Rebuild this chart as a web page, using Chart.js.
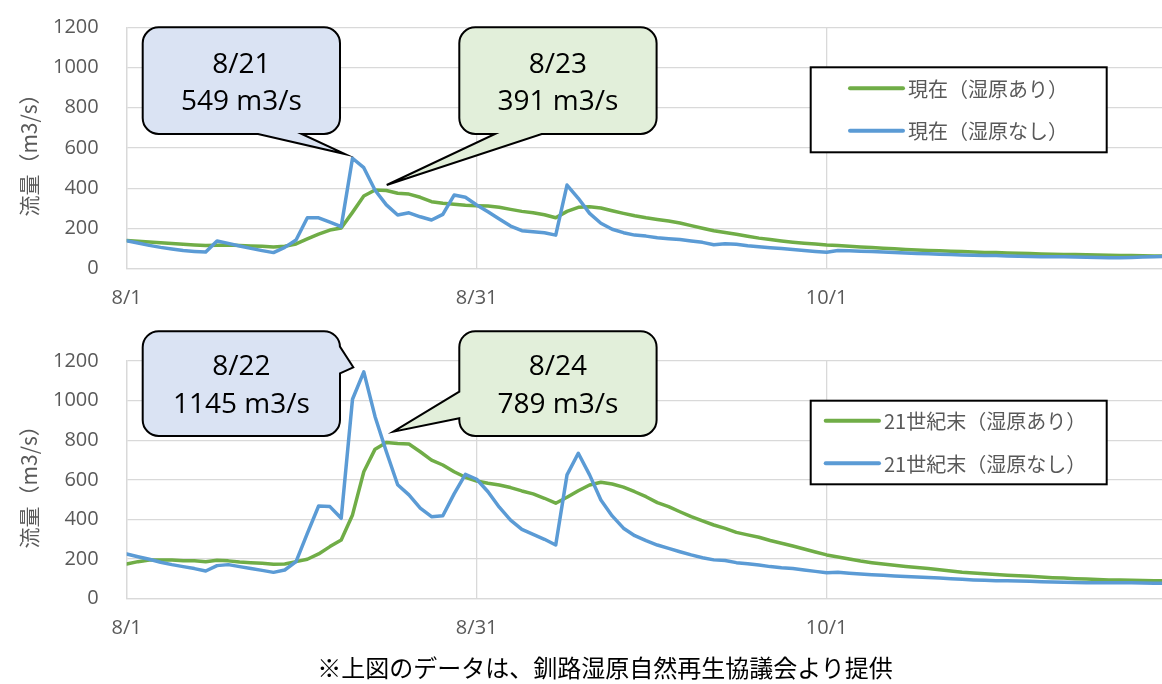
<!DOCTYPE html>
<html lang="ja">
<head>
<meta charset="utf-8">
<script src="https://cdn.jsdelivr.net/npm/chart.js@4/dist/chart.umd.min.js"></script>
<style>
html,body{margin:0;padding:0;background:#fff;}
body{width:1162px;height:684px;position:relative;overflow:hidden;}
.panel{position:absolute;left:0;width:1162px;}
#top{top:0;height:330px;}
#bottom{top:330px;height:320px;}
#note{position:absolute;left:24px;width:1162px;top:652px;text-align:center;font:24px/30px "Noto Sans CJK JP";color:#000;}
</style>
</head>
<body>
<div class="panel" id="top"><canvas id="c1"></canvas></div>
<div class="panel" id="bottom"><canvas id="c2"></canvas></div>
<div id="note">※上図のデータは、釧路湿原自然再生協議会より提供</div>
<script>
// Daily discharge (m3/s); index 0 = 8/1
const nowWithWetland = [
  140,136,133,129,125,121,118,115,116,118,
  115,113,111,108,112,123,148,172,192,202,
  280,361,391,389,375,371,355,333,325,320,
  315,313,312,305,295,285,278,268,253,285,
  305,308,302,288,275,263,253,245,237,227,
  214,201,189,180,171,161,152,145,138,132,
  127,123,118,115,112,108,105,102,99,96,
  93,91,89,87,85,83,81,80,78,77,
  75,73,72,71,70,69,68,67,66,65,
  64,63,63
];
const nowWithoutWetland = [
  139,128,116,106,98,90,86,83,138,126,
  113,101,90,80,106,143,253,253,231,209,
  549,502,390,317,267,278,258,242,270,366,
  355,317,283,247,212,189,184,179,167,416,
  350,275,226,196,179,167,162,154,149,145,
  138,131,119,124,121,114,109,104,100,95,
  90,86,82,90,89,87,85,83,81,78,
  76,74,72,70,68,67,66,65,63,62,
  61,60,60,59,58,57,56,55,55,56,
  58,60,61
];
const futureWithWetland = [
  175,187,195,195,195,192,191,187,194,191,
  185,182,179,174,175,187,199,226,263,296,
  423,641,755,789,784,781,742,700,675,641,
  613,594,583,574,561,544,529,507,482,512,
  545,574,588,579,563,540,515,485,465,439,
  414,393,372,355,335,322,310,294,280,266,
  251,236,221,211,200,190,182,175,169,163,
  157,152,146,140,134,130,126,122,119,116,
  113,109,106,104,101,99,97,95,94,93,
  92,91,90
];
const futureWithoutWetland = [
  226,212,199,184,172,162,152,140,167,172,
  162,152,143,133,145,187,330,468,465,406,
  1007,1145,919,742,575,524,457,414,419,529,
  628,603,540,462,397,350,325,300,271,625,
  734,625,498,418,356,318,293,271,254,237,
  221,207,196,193,182,177,170,162,156,152,
  145,138,131,134,129,125,121,118,115,112,
  110,107,104,101,98,95,93,91,90,89,
  88,86,84,83,82,81,81,81,81,80,
  79,78,78
];
const tickDays = [0, 31, 62];
const tickLabels = ['8/1', '8/31', '10/1'];
const seriesLabelsNow = ['現在（湿原あり）', '現在（湿原なし）'];
const seriesLabelsFuture = ['21世紀末（湿原あり）', '21世紀末（湿原なし）'];
const yAxisTitle = '流量（m3/s）';

const GREEN = '#70ad47';
const BLUE = '#5b9bd5';
const GRID = '#d9d9d9';
const AXIS_TEXT = '#595959';
const NUM_FONT = '"Open Sans", "DejaVu Sans", sans-serif';
const JP_FONT = '"Noto Sans CJK JP", sans-serif';

const toPoints = arr => arr.map((v, i) => ({x: i, y: v}));
const dateOf = i => '8/' + (i + 1);

// Rotated axis title, centred on the plot height
const axisTitle = {
  id: 'axisTitle',
  afterDraw(chart, args, o) {
    const ctx = chart.ctx;
    const a = chart.chartArea;
    ctx.save();
    ctx.translate(o.x, (a.top + a.bottom) / 2 + 2);
    ctx.rotate(-Math.PI / 2);
    ctx.font = '21px ' + JP_FONT;
    ctx.fillStyle = AXIS_TEXT;
    ctx.textAlign = 'center';
    ctx.textBaseline = 'middle';
    ctx.fillText(o.text, 0, 0);
    ctx.restore();
  }
};

// Boxed legend drawn inside the plot
const boxLegend = {
  id: 'boxLegend',
  afterDraw(chart, args, o) {
    const ctx = chart.ctx;
    ctx.save();
    ctx.fillStyle = '#fff';
    ctx.fillRect(o.x, o.y, o.w, o.h);
    ctx.lineWidth = 2;
    ctx.strokeStyle = '#000';
    ctx.strokeRect(o.x, o.y, o.w, o.h);
    ctx.font = '20px ' + JP_FONT;
    ctx.textBaseline = 'middle';
    ctx.fillStyle = AXIS_TEXT;
    chart.data.datasets.forEach((ds, k) => {
      const y = o.rows[k];
      ctx.beginPath();
      ctx.lineWidth = 4;
      ctx.lineCap = 'round';
      ctx.strokeStyle = ds.borderColor;
      ctx.moveTo(o.lineX0, y);
      ctx.lineTo(o.lineX1, y);
      ctx.stroke();
      ctx.fillText(ds.label, o.textX, y + 1);
    });
    ctx.restore();
  }
};

// Speech-bubble callouts naming the peak of a series
const callouts = {
  id: 'callouts',
  afterDraw(chart, args, o) {
    const ctx = chart.ctx;
    o.items.forEach(c => {
      const v = chart.data.datasets[c.ds].data[c.index].y;
      const {x, y, w, h} = c;
      const r = 16;
      ctx.save();
      ctx.beginPath();
      ctx.moveTo(x + r, y);
      ctx.lineTo(x + w - r, y);
      ctx.arcTo(x + w, y, x + w, y + r, r);
      if (c.side === 'right') { ctx.lineTo(x + w, c.a); ctx.lineTo(c.tip[0], c.tip[1]); ctx.lineTo(x + w, c.b); }
      ctx.lineTo(x + w, y + h - r);
      ctx.arcTo(x + w, y + h, x + w - r, y + h, r);
      if (c.side === 'bottom') { ctx.lineTo(c.b, y + h); ctx.lineTo(c.tip[0], c.tip[1]); ctx.lineTo(c.a, y + h); }
      ctx.lineTo(x + r, y + h);
      ctx.arcTo(x, y + h, x, y + h - r, r);
      if (c.side === 'left') { ctx.lineTo(x, c.b); ctx.lineTo(c.tip[0], c.tip[1]); ctx.lineTo(x, c.a); }
      ctx.lineTo(x, y + r);
      ctx.arcTo(x, y, x + r, y, r);
      ctx.closePath();
      ctx.fillStyle = c.fill;
      ctx.fill();
      ctx.lineWidth = 2;
      ctx.lineJoin = 'miter';
      ctx.strokeStyle = '#000';
      ctx.stroke();
      ctx.fillStyle = '#000';
      ctx.font = '28px ' + NUM_FONT;
      ctx.textAlign = 'center';
      ctx.textBaseline = 'middle';
      ctx.fillText(dateOf(c.index), x + w / 2, y + c.l1);
      ctx.fillText(v + ' m3/s', x + w / 2, y + c.l2);
      ctx.restore();
    });
  }
};

function makeChart(canvasId, labels, greenData, blueData, padTop, xHeight, legendOpts, calloutItems) {
  return new Chart(document.getElementById(canvasId), {
    type: 'line',
    data: {
      datasets: [
        {label: labels[0], data: toPoints(greenData), borderColor: GREEN, backgroundColor: GREEN, order: 1},
        {label: labels[1], data: toPoints(blueData), borderColor: BLUE, backgroundColor: BLUE, order: 0}
      ]
    },
    options: {
      responsive: true,
      maintainAspectRatio: false,
      animation: false,
      events: [],
      layout: {padding: {top: padTop, left: 0, right: 0, bottom: 0}},
      elements: {
        line: {borderWidth: 3.5, tension: 0, borderJoinStyle: 'round', borderCapStyle: 'round'},
        point: {radius: 0}
      },
      scales: {
        x: {
          type: 'linear',
          min: 0,
          max: 91.7,
          afterBuildTicks: s => { s.ticks = tickDays.map(v => ({value: v})); },
          afterFit: s => { s.height = xHeight; },
          ticks: {
            autoSkip: false,
            maxRotation: 0,
            padding: 18,
            color: AXIS_TEXT,
            font: {family: NUM_FONT, size: 20},
            callback: (val, i) => tickLabels[i]
          },
          grid: {color: GRID, lineWidth: 1.3, drawTicks: false},
          border: {color: GRID, width: 1.3}
        },
        y: {
          min: 0,
          max: 1200,
          afterFit: s => { s.width = 126.7; },
          ticks: {
            stepSize: 200,
            padding: 0,
            color: AXIS_TEXT,
            font: {family: NUM_FONT, size: 20},
            callback: v => String(v)
          },
          // invisible tick marks keep the labels clear of the axis
          grid: {color: GRID, lineWidth: 1.3, drawTicks: true, tickLength: 28, tickColor: 'rgba(0,0,0,0)'},
          border: {color: GRID, width: 1.3}
        }
      },
      plugins: {
        legend: {display: false},
        tooltip: {enabled: false},
        axisTitle: {text: yAxisTitle, x: 29},
        boxLegend: legendOpts,
        callouts: {items: calloutItems}
      }
    },
    plugins: [axisTitle, boxLegend, callouts]
  });
}

makeChart('c1', seriesLabelsNow, nowWithWetland, nowWithoutWetland, 27.3, 61.3,
  {x: 810.7, y: 67.3, w: 296, h: 85, rows: [88.3, 130.7], lineX0: 850, lineX1: 903, textX: 908},
  [
    {ds: 1, index: 20, x: 142.7, y: 27.3, w: 197.3, h: 106.7, fill: '#dae3f3',
     side: 'bottom', a: 258, b: 301.7, tip: [345, 154], l1: 37.7, l2: 74.4},
    {ds: 0, index: 22, x: 459.3, y: 27.3, w: 197.3, h: 106.7, fill: '#e2efda',
     side: 'bottom', a: 495, b: 541.7, tip: [386.7, 185], l1: 37.7, l2: 74.4}
  ]);

makeChart('c2', seriesLabelsFuture, futureWithWetland, futureWithoutWetland, 31, 51.3,
  {x: 810.7, y: 70.7, w: 296, h: 83.6, rows: [90.7, 133.3], lineX0: 825.7, lineX1: 879, textX: 884},
  [
    {ds: 1, index: 21, x: 142.7, y: 1.2, w: 197.3, h: 104.8, fill: '#dae3f3',
     side: 'right', a: 16.7, b: 43.3, tip: [353.3, 37.3], l1: 35.7, l2: 74},
    {ds: 0, index: 23, x: 459.3, y: 1.2, w: 197.3, h: 104.8, fill: '#e2efda',
     side: 'left', a: 61.7, b: 88.3, tip: [393.3, 101.7], l1: 35.7, l2: 74}
  ]);
</script>
</body>
</html>
